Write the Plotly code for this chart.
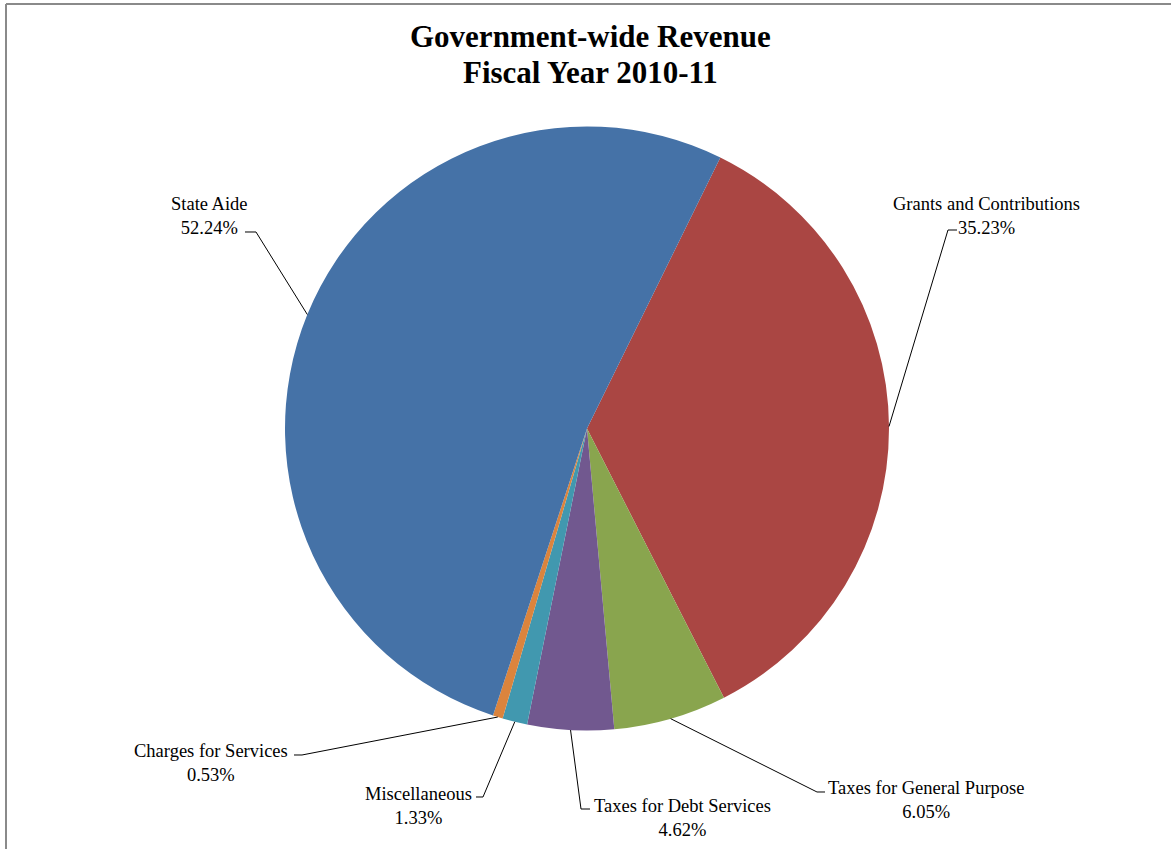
import math
import plotly.graph_objects as go

# ---- data ----
categories = ["Grants and Contributions", "Taxes for General Purpose",
              "Taxes for Debt Services", "Miscellaneous",
              "Charges for Services", "State Aide"]
values = [35.23, 6.05, 4.62, 1.33, 0.53, 52.24]
colors = ["#AA4643", "#89A54E", "#71588F", "#4198AF", "#DB843D", "#4572A7"]
title_lines = ["Government-wide Revenue", "Fiscal Year 2010-11"]

W, H = 1171, 849
CX, CY, R = 587, 428.5, 302
ROT = 26.2


def px(x, y):
    return x / W, 1 - y / H


fig = go.Figure()
fig.add_trace(go.Pie(
    labels=categories, values=values, sort=False, direction="clockwise",
    rotation=ROT, marker=dict(colors=colors, line=dict(width=0)),
    textinfo="none", hoverinfo="label+percent", showlegend=False,
    domain=dict(x=[(CX - R) / W, (CX + R) / W], y=[(H - CY - R) / H, (H - CY + R) / H]),
))

# label layout (label center, leader line elbow points) in pixels
label_layout = {
    "State Aide": ((209, 216), [(245, 232), (256, 232)]),
    "Grants and Contributions": ((986, 216), [(957, 230), (948, 230)]),
    "Taxes for General Purpose": ((926, 800), [(825, 792), (817, 792)]),
    "Taxes for Debt Services": ((682, 818), [(590, 809), (581, 809)]),
    "Miscellaneous": ((418, 806), [(476, 797), (483, 797)]),
    "Charges for Services": ((211, 763), [(294, 755), (302, 755)]),
}

total = sum(values)
cum = 0.0
shapes = []
annotations = []
for cat, v in zip(categories, values):
    mid = ROT + (cum + v / 2) / total * 360
    cum += v
    a = math.radians(mid)
    ex, ey = CX + R * math.sin(a), CY - R * math.cos(a)
    (lx, ly), elbow = label_layout[cat]
    pts = elbow + [(ex, ey)]
    path = "M " + " L ".join(f"{px(x, y)[0]:.5f},{px(x, y)[1]:.5f}" for x, y in pts)
    shapes.append(dict(type="path", path=path, xref="paper", yref="paper",
                       line=dict(color="black", width=1)))
    ax_, ay_ = px(lx, ly)
    annotations.append(dict(
        x=ax_, y=ay_, xref="paper", yref="paper", xanchor="center", yanchor="middle",
        text=f"{cat}<br>{v:.2f}%", showarrow=False, align="center",
        font=dict(family="Liberation Serif", size=18.5, color="black")))

# title lines
for txt, ty in zip(title_lines, [37, 72]):
    tx, tyy = px(590, ty)
    annotations.append(dict(
        x=tx, y=tyy, xref="paper", yref="paper", xanchor="center", yanchor="middle",
        text=f"<b>{txt}</b>", showarrow=False,
        font=dict(family="Liberation Serif", size=31, color="black")))

# chart-area border (top and left)
shapes.append(dict(type="line", xref="paper", yref="paper",
                   x0=px(6, 4)[0], y0=px(6, 4)[1], x1=1, y1=px(6, 4)[1],
                   line=dict(color="#8a8a8a", width=2)))
shapes.append(dict(type="line", xref="paper", yref="paper",
                   x0=px(6, 4)[0], y0=px(6, 4)[1], x1=px(6, 4)[0], y1=0,
                   line=dict(color="#8a8a8a", width=2)))

fig.update_layout(
    width=W, height=H,
    margin=dict(l=0, r=0, t=0, b=0),
    paper_bgcolor="white", plot_bgcolor="white",
    shapes=shapes, annotations=annotations,
)

fig.write_html("out.html")
